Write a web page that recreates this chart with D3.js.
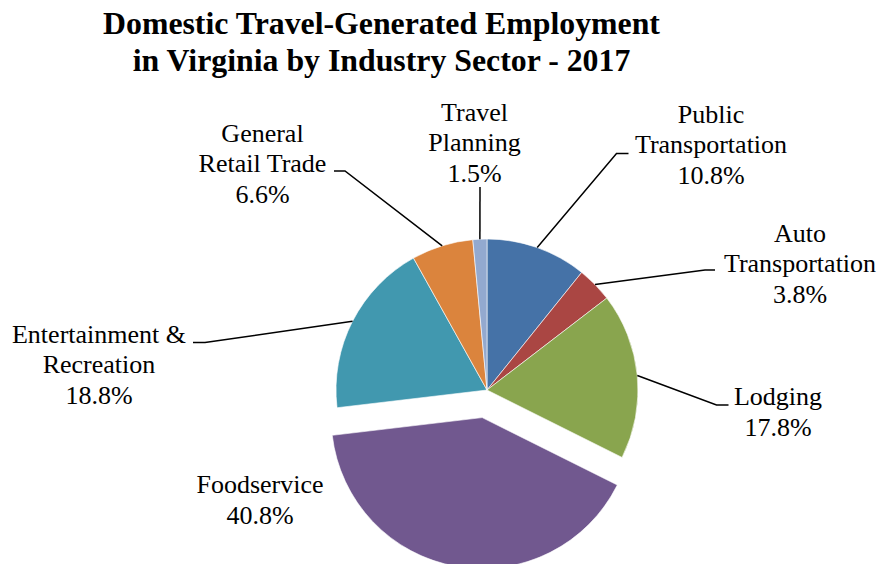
<!DOCTYPE html>
<html>
<head>
<meta charset="utf-8">
<script src="https://cdn.jsdelivr.net/npm/d3@7/dist/d3.min.js"></script>
</head>
<body style="margin:0;padding:0;background:#fff">
<svg id="chart" width="882" height="564" style="display:block"></svg>
<script>
// ---- data ----
const categories = ["Public Transportation", "Auto Transportation", "Lodging", "Foodservice",
                    "Entertainment & Recreation", "General Retail Trade", "Travel Planning"];
const values = [10.8, 3.8, 17.8, 40.8, 18.8, 6.6, 1.5];
const labelLines = [
  ["Public", "Transportation"],
  ["Auto", "Transportation"],
  ["Lodging"],
  ["Foodservice"],
  ["Entertainment &", "Recreation"],
  ["General", "Retail Trade"],
  ["Travel", "Planning"]
];
const colors = ["#4572A7", "#AA4643", "#89A54E", "#71588F", "#4198AF", "#DB843D", "#93A9CF"];
const exploded = ["Foodservice"];
const titleLines = ["Domestic Travel-Generated Employment", "in Virginia by Industry Sector - 2017"];

// ---- layout ----
const FONT = "'Liberation Serif', 'Times New Roman', 'DejaVu Serif', serif";
const cx = 487, cy = 390, R = 151, explodeOffset = 28;
const lineH = 30.5;
const labelLayout = {
  "Public Transportation":      { x: 711, y: 122.5, elbow: [616.5, 153.5], end: [628.5, 153.5] },
  "Auto Transportation":        { x: 800, y: 241.5, elbow: [705, 270],     end: [715, 270] },
  "Lodging":                    { x: 778, y: 405,   elbow: [716.5, 405],   end: [728.5, 405] },
  "Foodservice":                { x: 260, y: 493,   elbow: null,           end: null },
  "Entertainment & Recreation": { x: 99, y: 342.5, elbow: [205, 342.5],   end: [193, 342.5] },
  "General Retail Trade":       { x: 262.5, y: 141.5, elbow: [345, 171],   end: [334, 171] },
  "Travel Planning":            { x: 474.5, y: 120.5, elbow: [480, 187],   end: [480, 187] }
};

const svg = d3.select("#chart");

// title
const title = svg.append("text")
  .attr("x", 381.5).attr("text-anchor", "middle")
  .attr("font-family", FONT).style("font-family", FONT)
  .attr("font-weight", "bold").attr("font-size", 31.8).attr("fill", "#000");
titleLines.forEach((t, i) => {
  title.append("tspan").attr("x", 381.5).attr("y", 33.5 + i * 37.5).text(t);
});

const data = categories.map((c, i) => ({ cat: c, value: values[i], color: colors[i], lines: labelLines[i] }));
const pie = d3.pie().sort(null).value(d => d.value);
const arcs = pie(data);
const arc = d3.arc().innerRadius(0).outerRadius(R);

const g = svg.append("g").attr("transform", `translate(${cx},${cy})`);

function offsetOf(d) {
  if (!exploded.includes(d.data.cat)) return [0, 0];
  const a = (d.startAngle + d.endAngle) / 2;
  return [explodeOffset * Math.sin(a), -explodeOffset * Math.cos(a)];
}

g.selectAll("path.slice").data(arcs).enter().append("path")
  .attr("class", "slice")
  .attr("d", arc)
  .attr("transform", d => { const o = offsetOf(d); return `translate(${o[0]},${o[1]})`; })
  .attr("fill", d => d.data.color)
  .attr("stroke", "#fff").attr("stroke-width", 0.6);

// leader lines
arcs.forEach(d => {
  const L = labelLayout[d.data.cat];
  if (!L.elbow) return;
  const a = (d.startAngle + d.endAngle) / 2;
  const o = offsetOf(d);
  const p0 = [cx + o[0] + R * Math.sin(a), cy + o[1] - R * Math.cos(a)];
  svg.append("path")
    .attr("d", d3.line()([p0, L.elbow, L.end]))
    .attr("fill", "none").attr("stroke", "#000").attr("stroke-width", 1.5);
});

// labels
arcs.forEach(d => {
  const L = labelLayout[d.data.cat];
  const lines = d.data.lines.concat([d3.format(".1f")(d.data.value) + "%"]);
  const t = svg.append("text").attr("text-anchor", "middle")
    .attr("font-family", FONT).style("font-family", FONT)
    .attr("font-size", 26).attr("fill", "#000");
  lines.forEach((s, i) => {
    t.append("tspan").attr("x", L.x).attr("y", L.y + i * lineH).text(s);
  });
});
</script>
</body>
</html>
